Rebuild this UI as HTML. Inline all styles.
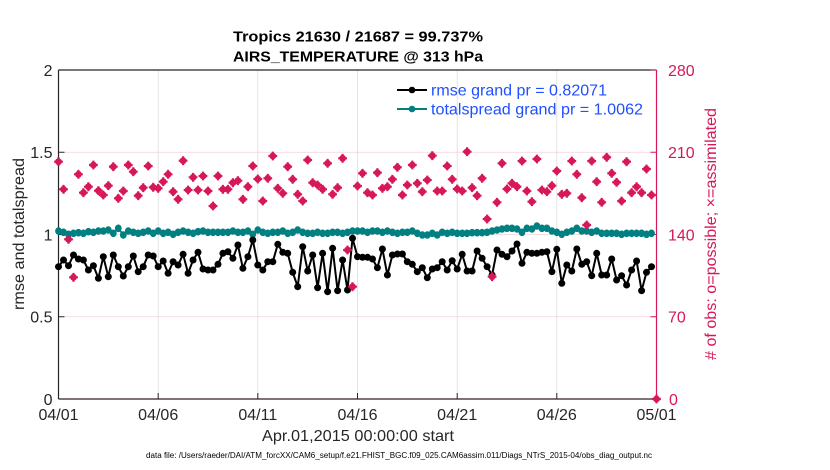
<!DOCTYPE html>
<html><head><meta charset="utf-8"><style>
html,body{margin:0;padding:0;background:#fff;}
svg{display:block;}
text{font-family:"Liberation Sans",Arial,sans-serif;}
</style></head><body>
<svg width="830" height="470" viewBox="0 0 830 470" xmlns="http://www.w3.org/2000/svg">
<defs>
<marker id="mk" markerUnits="userSpaceOnUse" markerWidth="10" markerHeight="10" refX="5" refY="5" overflow="visible"><circle cx="5" cy="5" r="3.5" fill="#000"/></marker>
<marker id="mt" markerUnits="userSpaceOnUse" markerWidth="10" markerHeight="10" refX="5" refY="5" overflow="visible"><ellipse cx="5" cy="5" rx="3.4" ry="3.8" fill="#008080"/></marker>
<marker id="mp" markerUnits="userSpaceOnUse" markerWidth="10" markerHeight="10" refX="5" refY="5" overflow="visible"><circle cx="5" cy="5" r="3.4" fill="#d6185a"/><path d="M5,0.6L5,9.4M0.6,5L9.4,5" stroke="#d6185a" stroke-width="2.2"/></marker>
</defs>
<rect width="830" height="470" fill="#fff"/>
<!-- grid -->
<g stroke="#dcdcdc" stroke-width="0.8">
<line x1="158.2" y1="70" x2="158.2" y2="399"/>
<line x1="257.8" y1="70" x2="257.8" y2="399"/>
<line x1="357.5" y1="70" x2="357.5" y2="399"/>
<line x1="457.2" y1="70" x2="457.2" y2="399"/>
<line x1="556.8" y1="70" x2="556.8" y2="399"/>
</g>
<g stroke="#f3cfdb" stroke-width="0.8">
<line x1="58.5" y1="152.25" x2="656.5" y2="152.25"/>
<line x1="58.5" y1="234.5" x2="656.5" y2="234.5"/>
<line x1="58.5" y1="316.75" x2="656.5" y2="316.75"/>
</g>
<!-- axes -->
<line x1="58.5" y1="70" x2="656.5" y2="70" stroke="#262626" stroke-width="1.2"/>
<line x1="58.5" y1="70" x2="58.5" y2="399" stroke="#262626" stroke-width="1.2"/>
<line x1="58.5" y1="399" x2="656.5" y2="399" stroke="#3a1c28" stroke-width="1.3"/>
<line x1="656.5" y1="70" x2="656.5" y2="399" stroke="#d6185a" stroke-width="1.2"/>
<g stroke="#262626" stroke-width="1">
<line x1="58.5" y1="152.25" x2="64.5" y2="152.25"/>
<line x1="58.5" y1="234.5" x2="64.5" y2="234.5"/>
<line x1="58.5" y1="316.75" x2="64.5" y2="316.75"/>
<line x1="158.2" y1="399" x2="158.2" y2="393"/>
<line x1="257.8" y1="399" x2="257.8" y2="393"/>
<line x1="357.5" y1="399" x2="357.5" y2="393"/>
<line x1="457.2" y1="399" x2="457.2" y2="393"/>
<line x1="556.8" y1="399" x2="556.8" y2="393"/>
</g>
<g stroke="#d6185a" stroke-width="1">
<line x1="650.5" y1="70" x2="656.5" y2="70"/>
<line x1="650.5" y1="152.25" x2="656.5" y2="152.25"/>
<line x1="650.5" y1="234.5" x2="656.5" y2="234.5"/>
<line x1="650.5" y1="316.75" x2="656.5" y2="316.75"/>
</g>
<!-- teal series -->
<polyline fill="none" stroke="#008080" stroke-width="2" marker-start="url(#mt)" marker-mid="url(#mt)" marker-end="url(#mt)" points="58.5,231 63.5,232.3 68.5,234.3 73.5,233.3 78.4,232.7 83.4,233.3 88.4,231.7 93.4,232.3 98.4,231 103.3,231 108.3,230 113.3,233.3 118.3,228.3 123.3,235 128.3,231 133.3,232.3 138.2,233.3 143.2,232.3 148.2,231 153.2,233.3 158.2,231 163.2,233.3 168.1,232.3 173.1,234.3 178.1,232.3 183.1,231 188.1,232.3 193.1,233.3 198.0,231.7 203.0,231 208.0,232.3 213.0,232.3 218.0,232.3 222.9,232.3 227.9,232.3 232.9,231 237.9,232.3 242.9,232.3 247.9,231 252.8,234.3 257.8,230 262.8,232.3 267.8,233.3 272.8,232.3 277.8,232.3 282.8,231 287.7,233.3 292.7,232.3 297.7,230 302.7,232.3 307.7,233.3 312.7,233.3 317.6,232.3 322.6,233.3 327.6,233.3 332.6,232.3 337.6,232.3 342.6,233.3 347.5,232.3 352.5,231 357.5,231 362.5,231 367.5,232.3 372.5,231 377.4,231 382.4,232.3 387.4,231 392.4,232.3 397.4,233.3 402.4,232.3 407.3,232.3 412.3,231 417.3,233.3 422.3,235 427.3,235 432.3,233.3 437.2,235 442.2,232.3 447.2,233.3 452.2,232.3 457.2,233.3 462.2,233.3 467.1,233.3 472.1,232.7 477.1,232.7 482.1,232.7 487.1,232.3 492.1,231 497.0,230 502.0,229 507.0,228.3 512.0,228.3 517.0,229 522.0,232.3 526.9,228.3 531.9,229 536.9,226 541.9,228.3 546.9,228.3 551.9,231 556.8,232.3 561.8,234.3 566.8,232.3 571.8,231 576.8,228.3 581.8,231 586.7,231 591.7,232.3 596.7,231 601.7,233.3 606.7,233.3 611.7,233.3 616.6,233.3 621.6,234.3 626.6,233.3 631.6,233.3 636.6,233.3 641.6,233.3 646.5,234.3 651.5,233.3"/>
<!-- black series -->
<polyline fill="none" stroke="#000" stroke-width="2" marker-start="url(#mk)" marker-mid="url(#mk)" marker-end="url(#mk)" points="58.5,266.7 63.5,260 68.5,265.7 73.5,255 78.4,259 83.4,260 88.4,270 93.4,265.7 98.4,278.3 103.3,256.7 108.3,276.7 113.3,255 118.3,266.7 123.3,276 128.3,266.7 133.3,256 138.2,271.7 143.2,266.7 148.2,255 153.2,256 158.2,266.7 163.2,261 168.1,273.3 173.1,261.7 178.1,265 183.1,254.3 188.1,273.3 193.1,260 198.0,252.3 203.0,269 208.0,270 213.0,270 218.0,264.3 222.9,253.3 227.9,251.7 232.9,258.3 237.9,245 242.9,268.3 247.9,256.7 252.8,240 257.8,265 262.8,270 267.8,261.7 272.8,261.7 277.8,244.3 282.8,252.3 287.7,253.3 292.7,272.3 297.7,286.7 302.7,246.7 307.7,271 312.7,255 317.6,287.7 322.6,253.3 327.6,291.7 332.6,248.3 337.6,290.7 342.6,260 347.5,290 352.5,238.3 357.5,256.7 362.5,257.3 367.5,257.3 372.5,259 377.4,267.7 382.4,249 387.4,275 392.4,255 397.4,254 402.4,254 407.3,261.7 412.3,264.3 417.3,271.7 422.3,267.7 427.3,277.7 432.3,269 437.2,267.7 442.2,261.7 447.2,270 452.2,260.7 457.2,269 462.2,254.3 467.1,271 472.1,271 477.1,251 482.1,258.3 487.1,266.7 492.1,275 497.0,250 502.0,254.3 507.0,256.7 512.0,251 517.0,244 522.0,263.3 526.9,252.3 531.9,253.3 536.9,253.3 541.9,252.3 546.9,251.7 551.9,271.7 556.8,249.3 561.8,283.3 566.8,265 571.8,271 576.8,249 581.8,264.3 586.7,261.7 591.7,275.7 596.7,253.3 601.7,275 606.7,275 611.7,259 616.6,280 621.6,275.7 626.6,285 631.6,270 636.6,261 641.6,290.7 646.5,272.3 651.5,266.7"/>
<!-- pink obs markers -->
<polyline fill="none" stroke="none" marker-start="url(#mp)" marker-mid="url(#mp)" marker-end="url(#mp)" points="58.5,161.7 63.5,189.3 68.5,239.3 73.5,277.3 78.4,174.3 83.4,192.7 88.4,186.7 93.4,165 98.4,190.7 103.3,195 108.3,185.7 113.3,166.7 118.3,198.3 123.3,191 128.3,165 133.3,171.7 138.2,195.7 143.2,187.7 148.2,166 153.2,187.3 158.2,188.3 163.2,181.7 168.1,174.3 173.1,191.7 178.1,199.3 183.1,160.7 188.1,190 193.1,177.3 198.0,190 203.0,176 208.0,191 213.0,206 218.0,176 222.9,189.3 227.9,189.3 232.9,182.7 237.9,180.7 242.9,199.3 247.9,186.7 252.8,166 257.8,179 262.8,201 267.8,178.3 272.8,156 277.8,188.3 282.8,193.3 287.7,166.7 292.7,179.3 297.7,194.3 302.7,201 307.7,160 312.7,182.7 317.6,185 322.6,189.3 327.6,163.3 332.6,194.3 337.6,187.7 342.6,158.3 347.5,250 352.5,286.7 357.5,186 362.5,173.3 367.5,192.7 372.5,195 377.4,172.7 382.4,188.3 387.4,186.7 392.4,179.3 397.4,167.3 402.4,195 407.3,185 412.3,165 417.3,183.3 422.3,191.7 427.3,180 432.3,155.7 437.2,191 442.2,191 447.2,166 452.2,179.3 457.2,189 462.2,191 467.1,151.7 472.1,187.7 477.1,195.7 482.1,178.3 487.1,219 492.1,276.7 497.0,202.3 502.0,163.3 507.0,189 512.0,183.3 517.0,186.7 522.0,161 526.9,191 531.9,201.7 536.9,159 541.9,190 546.9,191.7 551.9,185.7 556.8,171 561.8,194.3 566.8,193.3 571.8,161 576.8,174.3 581.8,197.7 586.7,225 591.7,161 596.7,181.7 601.7,202.3 606.7,157.3 611.7,173.3 616.6,182.3 621.6,201 626.6,161.7 631.6,192.7 636.6,186.7 641.6,192.7 646.5,169 651.5,195 656.5,399"/>
<!-- legend -->
<line x1="397" y1="90" x2="427" y2="90" stroke="#000" stroke-width="2"/>
<circle cx="412" cy="90" r="3.3" fill="#000"/>
<line x1="397" y1="109" x2="427" y2="109" stroke="#008080" stroke-width="2"/>
<circle cx="412" cy="109" r="3.3" fill="#008080"/>
<text x="431" y="95.5" font-size="16" fill="#1f4fff" textLength="176" lengthAdjust="spacingAndGlyphs">rmse grand pr = 0.82071</text>
<text x="431" y="114.5" font-size="16" fill="#1f4fff" textLength="212" lengthAdjust="spacingAndGlyphs">totalspread grand pr = 1.0062</text>
<!-- titles -->
<text x="358" y="41.5" font-size="15" font-weight="bold" fill="#000" text-anchor="middle" textLength="250" lengthAdjust="spacingAndGlyphs">Tropics 21630 / 21687 = 99.737%</text>
<text x="358" y="61.5" font-size="15" font-weight="bold" fill="#000" text-anchor="middle" textLength="250" lengthAdjust="spacingAndGlyphs">AIRS_TEMPERATURE @ 313 hPa</text>
<!-- left tick labels -->
<g font-size="16" fill="#262626" text-anchor="end">
<text x="52.5" y="76">2</text>
<text x="52.5" y="158">1.5</text>
<text x="52.5" y="240.5">1</text>
<text x="52.5" y="322.5">0.5</text>
<text x="52.5" y="405">0</text>
</g>
<!-- right tick labels -->
<g font-size="16" fill="#d6185a">
<text x="668" y="76">280</text>
<text x="668" y="158">210</text>
<text x="668" y="240.5">140</text>
<text x="668" y="322.5">70</text>
<text x="669" y="405">0</text>
</g>
<!-- x tick labels -->
<g font-size="16" fill="#262626" text-anchor="middle">
<text x="58.5" y="420">04/01</text>
<text x="158.2" y="420">04/06</text>
<text x="257.8" y="420">04/11</text>
<text x="357.5" y="420">04/16</text>
<text x="457.2" y="420">04/21</text>
<text x="556.8" y="420">04/26</text>
<text x="656.5" y="420">05/01</text>
</g>
<text x="358" y="441" font-size="16" fill="#262626" text-anchor="middle" textLength="192" lengthAdjust="spacingAndGlyphs">Apr.01,2015 00:00:00 start</text>
<text transform="translate(24,234) rotate(-90)" font-size="16" fill="#262626" text-anchor="middle" textLength="152" lengthAdjust="spacingAndGlyphs">rmse and totalspread</text>
<text transform="translate(716,234) rotate(-90)" font-size="16" fill="#d6185a" text-anchor="middle" textLength="252" lengthAdjust="spacingAndGlyphs"># of obs: o=possible; ×=assimilated</text>
<text x="399" y="458" font-size="8" fill="#000" text-anchor="middle" textLength="506" lengthAdjust="spacingAndGlyphs">data file: /Users/raeder/DAI/ATM_forcXX/CAM6_setup/f.e21.FHIST_BGC.f09_025.CAM6assim.011/Diags_NTrS_2015-04/obs_diag_output.nc</text>
</svg>
</body></html>
